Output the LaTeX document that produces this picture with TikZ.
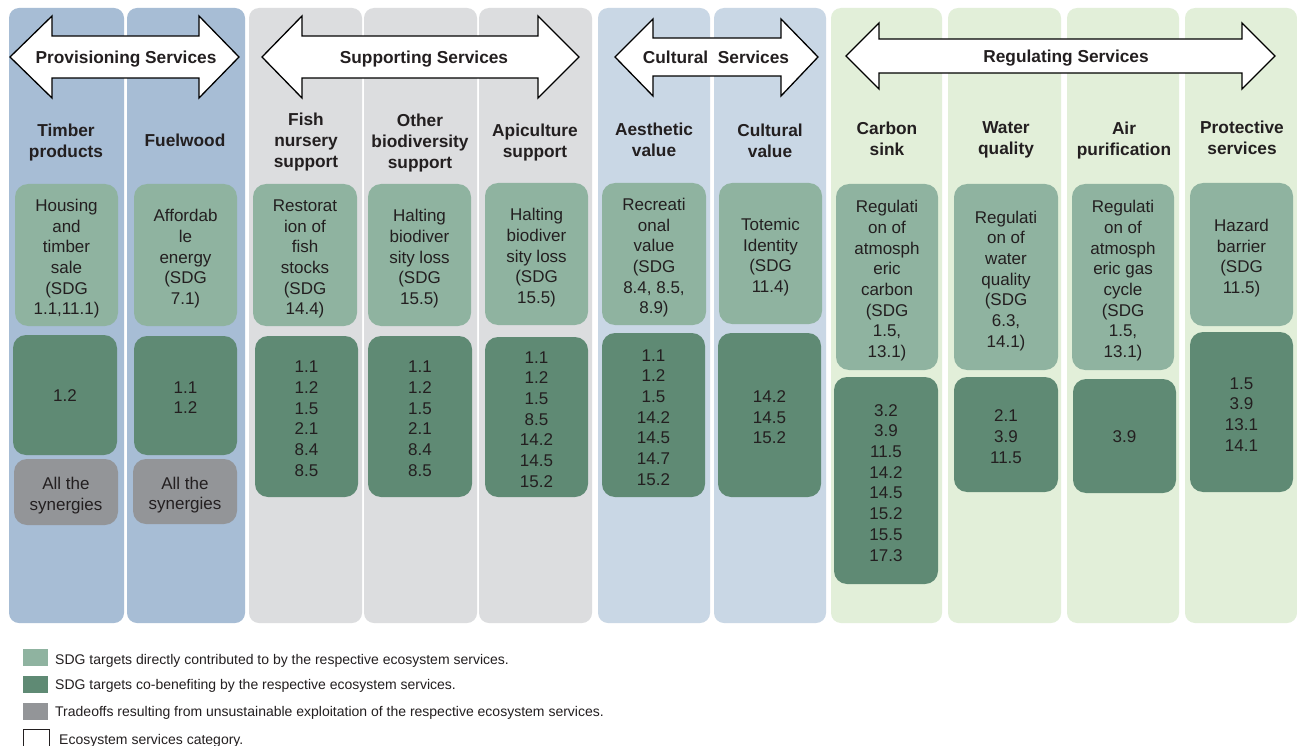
\documentclass[tikz,border=0pt]{standalone}
\usepackage{fontspec}
\setmainfont{Liberation Sans}
\definecolor{colblue}{HTML}{A7BDD5}
\definecolor{colgray}{HTML}{DCDDDF}
\definecolor{collblue}{HTML}{C9D7E5}
\definecolor{colgreen}{HTML}{E2EFD9}
\definecolor{lbox}{HTML}{8FB3A0}
\definecolor{dbox}{HTML}{5F8A74}
\definecolor{gbox}{HTML}{939598}
\definecolor{ink}{HTML}{231F20}
\newcommand{\tsr}{\rule{0pt}{20.7pt}}
\newcommand{\hsr}{\rule{0pt}{16.7pt}}
\newcommand{\bsr}{\rule[-4.5pt]{0pt}{4.5pt}}
\tikzset{
  evenstrut/.style={execute at begin node={\rule{0pt}{#1}}, execute at end node={\rule[-4.5pt]{0pt}{4.5pt}}},
  colbox/.style={rounded corners=10pt, inner sep=0pt, minimum width=114pt, minimum height=615pt},
  sdgbox/.style={rounded corners=13pt, inner sep=0pt, align=center, text=ink,
    font=\fontsize{17}{20.7}\selectfont, evenstrut=16.7pt},
  lightbox/.style={sdgbox, fill=lbox},
  darkbox/.style={sdgbox, fill=dbox},
  graybox/.style={sdgbox, fill=gbox},
  head/.style={align=center, text=ink, inner sep=0pt, font=\bfseries\fontsize{17.3}{21}\selectfont, evenstrut=16.9pt},
  arrowshape/.style={draw=black, fill=white, line width=1.3pt, line join=miter},
  arrowlabel/.style={text=ink, inner sep=0pt, font=\bfseries\fontsize{17.3}{21}\selectfont, evenstrut=16.9pt},
  swatch/.style={inner sep=0pt, minimum width=25pt, minimum height=17pt},
  legtext/.style={anchor=west, inner sep=0pt, text=ink, font=\fontsize{14}{16}\selectfont,
    execute at begin node={\rule{0pt}{14.5pt}}, execute at end node={\rule[-4.5pt]{0pt}{4.5pt}}}
}
\begin{document}
\begin{tikzpicture}[x=1pt, y=-1pt]
\useasboundingbox (0,0) rectangle (1297,746);
\fill[white] (0,0) rectangle (1297,746);
% column backgrounds
\node[colbox, fill=colblue, minimum width=115pt] (c1) at (66.5,315.5) {};
\node[colbox, fill=colblue, minimum width=118pt] (c2) at (186,315.5) {};
\node[colbox, fill=colgray, minimum width=113pt] (c3) at (305.5,315.5) {};
\node[colbox, fill=colgray, minimum width=113pt] (c4) at (420.5,315.5) {};
\node[colbox, fill=colgray, minimum width=113pt] (c5) at (535.5,315.5) {};
\node[colbox, fill=collblue, minimum width=112pt] (c6) at (654,315.5) {};
\node[colbox, fill=collblue, minimum width=112pt] (c7) at (770,315.5) {};
\node[colbox, fill=colgreen, minimum width=111pt] (c8) at (886.5,315.5) {};
\node[colbox, fill=colgreen, minimum width=113pt] (c9) at (1004.5,315.5) {};
\node[colbox, fill=colgreen, minimum width=112pt] (c10) at (1123,315.5) {};
\node[colbox, fill=colgreen, minimum width=112pt] (c11) at (1241,315.5) {};

% double arrows
\draw[arrowshape] (10,57) -- (52,16) -- (52,36) -- (199,36) -- (199,16) -- (239,57)
  -- (199,98) -- (199,78) -- (52,78) -- (52,98) -- cycle;
\node[arrowlabel] (a1) at (126,57) {Provisioning Services};
\draw[arrowshape] (262,57) -- (302,16) -- (302,36) -- (538,36) -- (538,16) -- (579,57)
  -- (538,98) -- (538,78) -- (302,78) -- (302,98) -- cycle;
\node[arrowlabel] (a2) at (424,57) {Supporting Services};
\draw[arrowshape] (615,57) -- (653,19) -- (653,38) -- (781,38) -- (781,19) -- (818,57)
  -- (781,96) -- (781,76) -- (653,76) -- (653,96) -- cycle;
\node[arrowlabel] (a3) at (716,57) {Cultural\ \ Services};
\draw[arrowshape] (846,56) -- (879,23) -- (879,39) -- (1242,39) -- (1242,23) -- (1275,56)
  -- (1242,89) -- (1242,73) -- (879,73) -- (879,89) -- cycle;
\node[arrowlabel] (a4) at (1066,56) {Regulating Services};

% headers
\node[head] (h1) at (66,140.5) {\hsr Timber\\products\bsr};
\node[head] (h2) at (185,140) {Fuelwood};
\node[head] (h3) at (306,140) {\hsr Fish\\nursery\\support\bsr};
\node[head] (h4) at (420,141.5) {\hsr Other\\biodiversity\\support\bsr};
\node[head] (h5) at (535,140.5) {\hsr Apiculture\\support\bsr};
\node[head] (h6) at (654,139.5) {\hsr Aesthetic\\value\bsr};
\node[head] (h7) at (770,140.5) {\hsr Cultural\\value\bsr};
\node[head] (h8) at (887,138.5) {\hsr Carbon\\sink\bsr};
\node[head] (h9) at (1006,137.5) {\hsr Water\\quality\bsr};
\node[head] (h10) at (1124,138.5) {\hsr Air\\purification\bsr};
\node[head] (h11) at (1242,137.5) {\hsr Protective\\services\bsr};

% light boxes
\node[lightbox, minimum width=103pt, minimum height=142pt] (l1) at (66.5,255) {\tsr Housing\\and\\timber\\sale\\(SDG\\1.1,11.1)\bsr};
\node[lightbox, minimum width=103pt, minimum height=142pt] (l2) at (185.5,255) {\tsr Affordab\\le\\energy\\(SDG\\7.1)\bsr};
\node[lightbox, minimum width=104pt, minimum height=142pt] (l3) at (305,255) {\tsr Restorat\\ion of\\fish\\stocks\\(SDG\\14.4)\bsr};
\node[lightbox, minimum width=103pt, minimum height=142pt] (l4) at (419.5,255) {\tsr Halting\\biodiver\\sity loss\\(SDG\\15.5)\bsr};
\node[lightbox, minimum width=103pt, minimum height=142pt] (l5) at (536.5,254) {\tsr Halting\\biodiver\\sity loss\\(SDG\\15.5)\bsr};
\node[lightbox, minimum width=104pt, minimum height=142pt] (l6) at (654,254) {\tsr Recreati\\onal\\value\\(SDG\\8.4, 8.5,\\8.9)\bsr};
\node[lightbox, minimum width=103pt, minimum height=141pt] (l7) at (770.5,253.5) {\tsr Totemic\\Identity\\(SDG\\11.4)\bsr};
\node[lightbox, minimum width=102pt, minimum height=186pt] (l8) at (887,277) {\tsr Regulati\\on of\\atmosph\\eric\\carbon\\(SDG\\1.5,\\13.1)\bsr};
\node[lightbox, minimum width=104pt, minimum height=186pt] (l9) at (1006,277) {\tsr Regulati\\on of\\water\\quality\\(SDG\\6.3,\\14.1)\bsr};
\node[lightbox, minimum width=102pt, minimum height=186pt] (l10) at (1123,277) {\tsr Regulati\\on of\\atmosph\\eric gas\\cycle\\(SDG\\1.5,\\13.1)\bsr};
\node[lightbox, minimum width=103pt, minimum height=143pt] (l11) at (1241.5,254.5) {\tsr Hazard\\barrier\\(SDG\\11.5)\bsr};

% dark boxes
\node[darkbox, minimum width=104pt, minimum height=120pt] (d1) at (65,395) {1.2};
\node[darkbox, minimum width=103pt, minimum height=119pt] (d2) at (185.5,395.5) {\tsr 1.1\\1.2\bsr};
\node[darkbox, minimum width=103pt, minimum height=161pt] (d3) at (306.5,416.5) {\tsr 1.1\\1.2\\1.5\\2.1\\8.4\\8.5\bsr};
\node[darkbox, minimum width=104pt, minimum height=161pt] (d4) at (420,416.5) {\tsr 1.1\\1.2\\1.5\\2.1\\8.4\\8.5\bsr};
\node[darkbox, minimum width=103pt, minimum height=160pt] (d5) at (536.5,417) {\tsr 1.1\\1.2\\1.5\\8.5\\14.2\\14.5\\15.2\bsr};
\node[darkbox, minimum width=103pt, minimum height=164pt] (d6) at (653.5,415) {\tsr 1.1\\1.2\\1.5\\14.2\\14.5\\14.7\\15.2\bsr};
\node[darkbox, minimum width=103pt, minimum height=164pt] (d7) at (769.5,415) {\tsr 14.2\\14.5\\15.2\bsr};
\node[darkbox, minimum width=104pt, minimum height=207pt] (d8) at (886,480.5) {\tsr 3.2\\3.9\\11.5\\14.2\\14.5\\15.2\\15.5\\17.3\bsr};
\node[darkbox, minimum width=104pt, minimum height=115pt] (d9) at (1006,434.5) {\tsr 2.1\\3.9\\11.5\bsr};
\node[darkbox, minimum width=103pt, minimum height=114pt] (d10) at (1124.5,436) {3.9};
\node[darkbox, minimum width=103pt, minimum height=160pt] (d11) at (1241.5,412) {\tsr 1.5\\3.9\\13.1\\14.1\bsr};

% gray boxes
\node[graybox, minimum width=104pt, minimum height=66pt] (g1) at (66,492) {\tsr All the\\synergies\bsr};
\node[graybox, minimum width=104pt, minimum height=65pt] (g2) at (185,491.5) {\tsr All the\\synergies\bsr};

% legend
\node[swatch, fill=lbox] (k1) at (35.5,657.5) {};
\node[legtext] (t1) at (55,659) {SDG targets directly contributed to by the respective ecosystem services.};
\node[swatch, fill=dbox] (k2) at (35.5,684.5) {};
\node[legtext] (t2) at (55,684) {SDG targets co-benefiting by the respective ecosystem services.};
\node[swatch, fill=gbox] (k3) at (35.5,711.5) {};
\node[legtext] (t3) at (55,711) {Tradeoffs resulting from unsustainable exploitation of the respective ecosystem services.};
\node[swatch, draw=ink, line width=1pt, minimum width=26pt, minimum height=22pt] (k4) at (36,740) {};
\node[legtext] (t4) at (59,739) {Ecosystem services category.};
\end{tikzpicture}
\end{document}
